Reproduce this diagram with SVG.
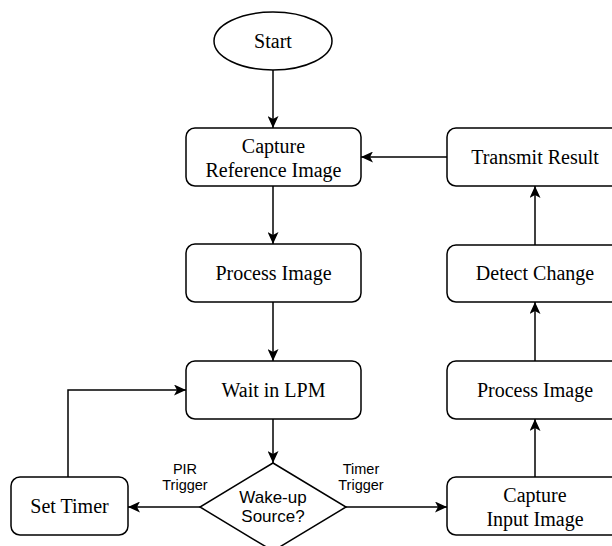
<svg xmlns="http://www.w3.org/2000/svg" width="612" height="546" viewBox="0 0 612 546">
<defs>
<marker id="arr" viewBox="0 0 12 11" refX="12" refY="5.5" markerWidth="12" markerHeight="11" markerUnits="userSpaceOnUse" orient="auto">
<path d="M0,0 L12,5.5 L0,11 L3,5.5 Z" fill="#000"/>
</marker>
<style>
.box{fill:#fff;stroke:#000;stroke-width:1.5}
.t{font-family:"Liberation Serif","Times New Roman",serif;font-size:20px;fill:#000;text-anchor:middle}
.s{font-family:"Liberation Sans",Arial,sans-serif;fill:#000;text-anchor:middle}
.c{fill:none;stroke:#000;stroke-width:1.5;marker-end:url(#arr)}
</style>
</defs>
<rect width="612" height="546" fill="#fff"/>
<g id="connectors">
<path class="c" d="M273,70 V128"/>
<path class="c" d="M273,186 V244"/>
<path class="c" d="M273,302 V361"/>
<path class="c" d="M273,419 V463"/>
<path class="c" d="M200,507 H128"/>
<path class="c" d="M68,477 V390 H186"/>
<path class="c" d="M346,507 H447"/>
<path class="c" d="M535,477 V419"/>
<path class="c" d="M535,361 V302"/>
<path class="c" d="M535,245 V186"/>
<path class="c" d="M447,157 H361"/>
<text class="s" font-size="14.5" x="185" y="474">PIR</text>
<text class="s" font-size="14.5" x="185" y="490">Trigger</text>
<text class="s" font-size="14.5" x="361" y="474">Timer</text>
<text class="s" font-size="14.5" x="361" y="490">Trigger</text>
</g>
<g id="start">
<ellipse class="box" cx="273" cy="41" rx="59" ry="29"/>
<text class="t" x="273" y="48">Start</text>
</g>
<g id="capture-ref">
<rect class="box" x="186" y="128" width="175" height="58" rx="9"/>
<text class="t" x="273.5" y="153">Capture</text>
<text class="t" x="273.5" y="177">Reference Image</text>
</g>
<g id="process-left">
<rect class="box" x="186" y="244" width="175" height="58" rx="9"/>
<text class="t" x="273.5" y="280">Process Image</text>
</g>
<g id="wait">
<rect class="box" x="186" y="361" width="175" height="58" rx="9"/>
<text class="t" x="273.5" y="397">Wait in LPM</text>
</g>
<g id="wake">
<polygon class="box" points="273,463 346,507 273,551 200,507"/>
<text class="s" font-size="17" x="273" y="503">Wake-up</text>
<text class="s" font-size="17" x="273" y="522">Source?</text>
</g>
<g id="set-timer">
<rect class="box" x="11" y="477" width="117" height="58" rx="9"/>
<text class="t" x="69.5" y="513">Set Timer</text>
</g>
<g id="capture-input">
<rect class="box" x="447" y="477" width="176" height="58" rx="9"/>
<text class="t" x="535" y="502">Capture</text>
<text class="t" x="535" y="526">Input Image</text>
</g>
<g id="process-right">
<rect class="box" x="447" y="361" width="176" height="58" rx="9"/>
<text class="t" x="535" y="397">Process Image</text>
</g>
<g id="detect">
<rect class="box" x="447" y="245" width="176" height="57" rx="9"/>
<text class="t" x="535" y="280">Detect Change</text>
</g>
<g id="transmit">
<rect class="box" x="447" y="128" width="176" height="58" rx="9"/>
<text class="t" x="535" y="164">Transmit Result</text>
</g>
</svg>
